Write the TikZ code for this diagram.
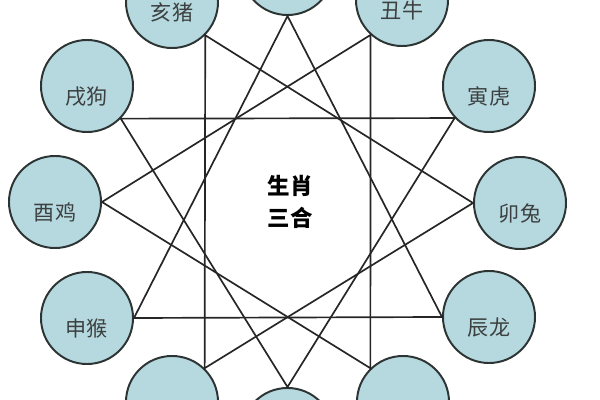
\documentclass[tikz,border=0pt]{standalone}
\usepackage{fontspec}
\newfontfamily\cjk{Noto Sans CJK SC}
\definecolor{signfill}{RGB}{182,217,223}
\definecolor{signrim}{RGB}{45,52,52}
\definecolor{signink}{RGB}{60,64,64}
\begin{document}
\begin{tikzpicture}[x=0.025cm,y=-0.025cm]

    \tikzset{
      sign/.style={
        circle,
        draw=signrim,
        line width=1.4pt,
        fill=signfill,
        minimum size=2.3cm,
        inner sep=0pt,
      },
      signname/.style={
        text=signink,
        font=\cjk\fontsize{15}{15}\selectfont,
        yshift=-0.26cm,
      },
      trine/.style={
        line width=1.2pt,
        draw=black!85,
      },
    }
    \useasboundingbox (0,0) rectangle (600,400);
    \clip (0,0) rectangle (600,400);
    % twelve signs (the four cut off by the frame show no name)
	\node[sign] (zi) at (287.5,-31) {};
	\node[sign,label={[signname]center:丑牛}] (chou) at (402,0) {};
	\node[sign,label={[signname]center:寅虎}] (yin) at (489,86) {};
	\node[sign,label={[signname]center:卯兔}] (mao) at (520,203) {};
	\node[sign,label={[signname]center:辰龙}] (chen) at (489,317) {};
	\node[sign] (si) at (403,402) {};
	\node[sign] (wu) at (287.5,434) {};
	\node[sign] (wei) at (172,402) {};
	\node[sign,label={[signname]center:申猴}] (shen) at (87,318) {};
	\node[sign,label={[signname]center:酉鸡}] (you) at (55,202) {};
	\node[sign,label={[signname]center:戌狗}] (xu) at (87,86) {};
	\node[sign,label={[signname]center:亥猪}] (hai) at (172,2) {};
	\node[align=center,font=\cjk\bfseries\fontsize{16}{23}\selectfont] (title) at (290,202) {生肖\\三合};
    % four trines
	\draw[trine] (zi.-90) -- (chen.180) -- (shen.0) -- cycle;
	\draw[trine] (chou.228) -- (si.134) -- (you.0) -- cycle;
	\draw[trine] (yin.223) -- (wu.90) -- (xu.-44) -- cycle;
	\draw[trine] (mao.180) -- (wei.46) -- (hai.-45) -- cycle;

\end{tikzpicture}
\end{document}
